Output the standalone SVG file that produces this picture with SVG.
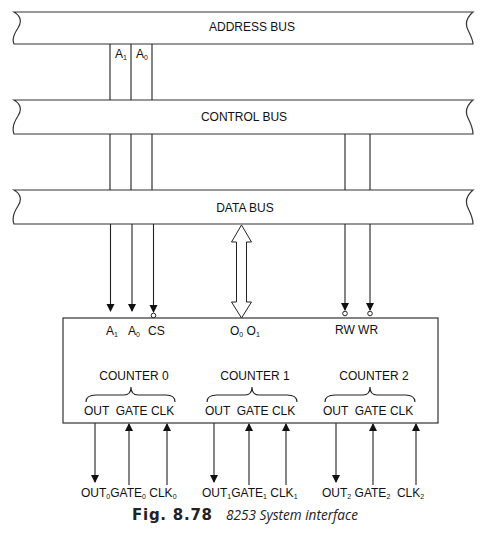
<svg xmlns="http://www.w3.org/2000/svg" width="486" height="540" viewBox="0 0 486 540">
<defs>
<style>
.bus{fill:#fff;stroke:#333;stroke-width:1.2}
.ln{fill:none;stroke:#222;stroke-width:1.1}
.t{font-family:"Liberation Sans",Arial,sans-serif;font-size:12px;fill:#111}
.s{font-size:7px}
.bl{font-family:"Liberation Sans",Arial,sans-serif;font-size:12px;fill:#111}
.bub{fill:#fff;stroke:#222;stroke-width:1}
.cap{font-size:15px;fill:#222}
</style>
<marker id="ah" markerWidth="8" markerHeight="10" refX="7" refY="4" orient="auto" markerUnits="userSpaceOnUse">
<path d="M0,0 L8,4 L0,8 Z" fill="#111"/>
</marker>
</defs>
<rect width="486" height="540" fill="#fff"/>

<g id="address-bus">
<path class="bus" d="M14,12 L473,12 C466,18 465,24 468,30 C471,36 473,40 473,44 L14,44 C12,40 14,34 18,28 C22,22 21,16 14,12 Z"/>
<text class="t" x="252" y="31" text-anchor="middle">ADDRESS BUS</text>
</g>
<g id="control-bus">
<path class="bus" d="M14,100 L473,100 C466,106 465,112 468,118 C471,124 473,129 473,134 L14,134 C12,129 14,122 18,116 C22,110 21,104 14,100 Z"/>
<text class="t" x="244" y="121" text-anchor="middle">CONTROL BUS</text>
</g>
<g id="data-bus">
<path class="bus" d="M14,190 L473,190 C466,196 465,202 468,208 C471,214 473,219 473,224 L14,224 C12,219 14,212 18,206 C22,200 21,194 14,190 Z"/>
<text class="t" x="245" y="212" text-anchor="middle">DATA BUS</text>
</g>

<g id="connectors">
<path class="ln" d="M110,44 V100 M110,134 V190"/>
<path class="ln" d="M131,44 V100 M131,134 V190"/>
<path class="ln" d="M152,44 V100 M152,134 V190"/>
<line class="ln" x1="110.5" y1="224" x2="110.5" y2="311" marker-end="url(#ah)"/>
<line class="ln" x1="132" y1="224" x2="132" y2="311" marker-end="url(#ah)"/>
<line class="ln" x1="153.5" y1="224" x2="153.5" y2="312" marker-end="url(#ah)"/>
<circle class="bub" cx="153.5" cy="315.5" r="2.3"/>
<path class="ln" d="M345,134 V190 M370,134 V190"/>
<line class="ln" x1="345" y1="224" x2="345" y2="310" marker-end="url(#ah)"/>
<line class="ln" x1="370" y1="224" x2="370" y2="310" marker-end="url(#ah)"/>
<circle class="bub" cx="345" cy="313.5" r="2.3"/>
<circle class="bub" cx="370" cy="313.5" r="2.3"/>
<path fill="#fff" stroke="#222" stroke-width="1" d="M241.5,225 L251.5,242 L246.5,242 L246.5,302 L251.5,302 L241.5,318 L231.5,302 L236.5,302 L236.5,242 L231.5,242 Z"/>
<line class="ln" x1="95" y1="423" x2="95" y2="482" marker-end="url(#ah)"/>
<line class="ln" x1="129" y1="485" x2="129" y2="424" marker-end="url(#ah)"/>
<line class="ln" x1="167" y1="485" x2="167" y2="424" marker-end="url(#ah)"/>
<line class="ln" x1="214" y1="423" x2="214" y2="482" marker-end="url(#ah)"/>
<line class="ln" x1="249" y1="485" x2="249" y2="424" marker-end="url(#ah)"/>
<line class="ln" x1="286" y1="485" x2="286" y2="424" marker-end="url(#ah)"/>
<line class="ln" x1="336" y1="423" x2="336" y2="482" marker-end="url(#ah)"/>
<line class="ln" x1="373" y1="485" x2="373" y2="424" marker-end="url(#ah)"/>
<line class="ln" x1="416" y1="485" x2="416" y2="424" marker-end="url(#ah)"/>
</g>

<g id="addr-labels">
<text class="t" x="115" y="58">A<tspan class="s" dy="2">1</tspan></text>
<text class="t" x="136" y="58">A<tspan class="s" dy="2">0</tspan></text>
</g>

<g id="chip-8253">
<rect x="63" y="318" width="375" height="105" fill="#fff" stroke="#333" stroke-width="1.2"/>
<text class="t" x="106" y="335">A<tspan class="s" dy="2">1</tspan></text>
<text class="t" x="128" y="335">A<tspan class="s" dy="2">0</tspan></text>
<text class="t" x="148" y="335">CS</text>
<text class="t" x="230" y="335">O<tspan class="s" dy="2">0</tspan><tspan dy="-2"> O</tspan><tspan class="s" dy="2">1</tspan></text>
<text class="t" x="335" y="334">RW WR</text>
</g>

<g id="counter-0">
<text class="t" x="134" y="380" text-anchor="middle">COUNTER 0</text>
<path class="ln" d="M86,402 Q86,395 96,395 L124,395 Q131,395 131,387 Q131,395 138,395 L166,395 Q175,395 175,402"/>
<text class="t" x="84" y="415" xml:space="preserve">OUT  GATE CLK</text>
</g>
<g id="counter-1">
<text class="t" x="255" y="380" text-anchor="middle">COUNTER 1</text>
<path class="ln" d="M207,402 Q207,395 217,395 L245,395 Q252,395 252,387 Q252,395 259,395 L287,395 Q297,395 297,402"/>
<text class="t" x="205" y="415" xml:space="preserve">OUT  GATE CLK</text>
</g>
<g id="counter-2">
<text class="t" x="374" y="380" text-anchor="middle">COUNTER 2</text>
<path class="ln" d="M325,402 Q325,395 335,395 L363,395 Q370,395 370,387 Q370,395 377,395 L405,395 Q415,395 415,402"/>
<text class="t" x="323" y="415" xml:space="preserve">OUT  GATE CLK</text>
</g>

<g id="pin-labels">
<text class="bl" x="81" y="497">OUT<tspan class="s" dy="2">0</tspan><tspan dy="-2">GATE</tspan><tspan class="s" dy="2">0</tspan><tspan dy="-2"> CLK</tspan><tspan class="s" dy="2">0</tspan></text>
<text class="bl" x="202" y="497">OUT<tspan class="s" dy="2">1</tspan><tspan dy="-2">GATE</tspan><tspan class="s" dy="2">1</tspan><tspan dy="-2"> CLK</tspan><tspan class="s" dy="2">1</tspan></text>
<text class="bl" x="322" y="497" xml:space="preserve">OUT<tspan class="s" dy="2">2</tspan><tspan dy="-2"> GATE</tspan><tspan class="s" dy="2">2</tspan><tspan dy="-2">  CLK</tspan><tspan class="s" dy="2">2</tspan></text>
</g>

<g id="caption">
<text class="cap" x="132" y="520" font-family="'DejaVu Sans',Verdana,sans-serif" font-weight="bold" textLength="80" lengthAdjust="spacing">Fig. 8.78</text>
<text class="cap" x="226" y="520" font-family="'Open Sans','DejaVu Sans',sans-serif" font-style="italic" textLength="132" lengthAdjust="spacingAndGlyphs">8253 System interface</text>
</g>
</svg>
